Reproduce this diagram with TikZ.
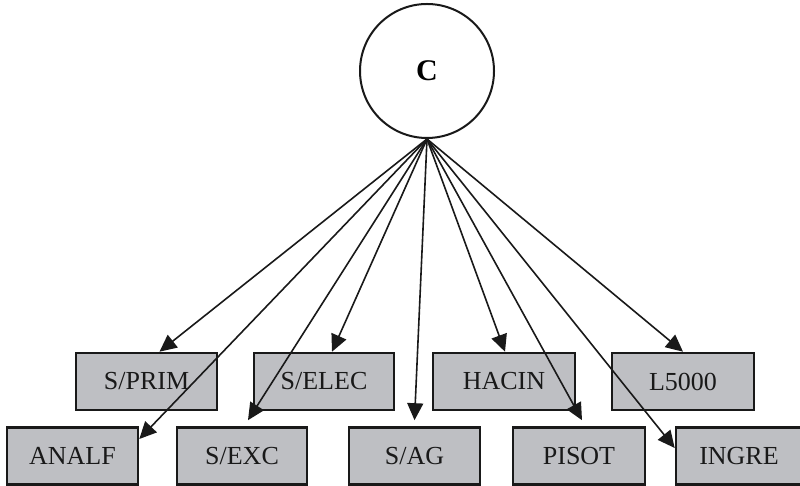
\documentclass[tikz,border=0pt]{standalone}
\usepackage{fontspec}
\setmainfont{Liberation Serif}
\usetikzlibrary{arrows.meta}
\definecolor{boxgray}{RGB}{190,191,195}
\tikzset{
  var/.style={draw=black!90, line width=2.6pt, fill=boxgray, minimum width=#1, minimum height=57pt, inner sep=0pt, font=\fontsize{26}{28}\selectfont, text=black!90},
  var/.default=131pt,
  lat/.style={draw=black!90, line width=2pt, circle, minimum size=134pt, inner sep=0pt, font=\fontsize{30}{32}\selectfont\bfseries},
  conn/.style={line width=1.6pt, draw=black!90, -{Triangle[length=17pt,width=16pt]}}
}
\begin{document}
\begin{tikzpicture}[x=1pt,y=1pt]
\useasboundingbox (0,0) rectangle (800,486);
\node[lat] (C) at (427,415) {C};
% top row
\node[var=141pt] (sprim) at (146.5,104.5) {S/PRIM};
\node[var=140pt] (selec) at (324,104.5) {S/ELEC};
\node[var=142pt] (hacin) at (504,104.5) {HACIN};
\node[var=142pt] (l5000) at (683,104.5) {L5000};
% bottom row
\node[var=131pt] (analf) at (72.5,30) {ANALF};
\node[var=130pt] (sexc) at (242,30) {S/EXC};
\node[var=131pt] (sag) at (414.5,30) {S/AG};
\node[var=132pt] (pisot) at (579,30) {PISOT};
\node[var=126pt] (ingre) at (739,30) {INGRE};
% connectors
\draw[conn] (C.south) -- ([xshift=13pt]sprim.north);
\draw[conn] (C.south) -- ([xshift=8pt]selec.north);
\draw[conn] (C.south) -- ([xshift=1pt]hacin.north);
\draw[conn] (C.south) -- (l5000.north);
\draw[conn] (C.south) -- ([yshift=17pt]analf.east);
\draw[conn] (C.south) -- ([xshift=6pt,yshift=6pt]sexc.north);
\draw[conn] (C.south) -- ([yshift=6pt]sag.north);
\draw[conn] (C.south) -- ([xshift=3pt,yshift=6pt]pisot.north);
\draw[conn] (C.south) -- ([yshift=8pt]ingre.west);
\end{tikzpicture}
\end{document}
